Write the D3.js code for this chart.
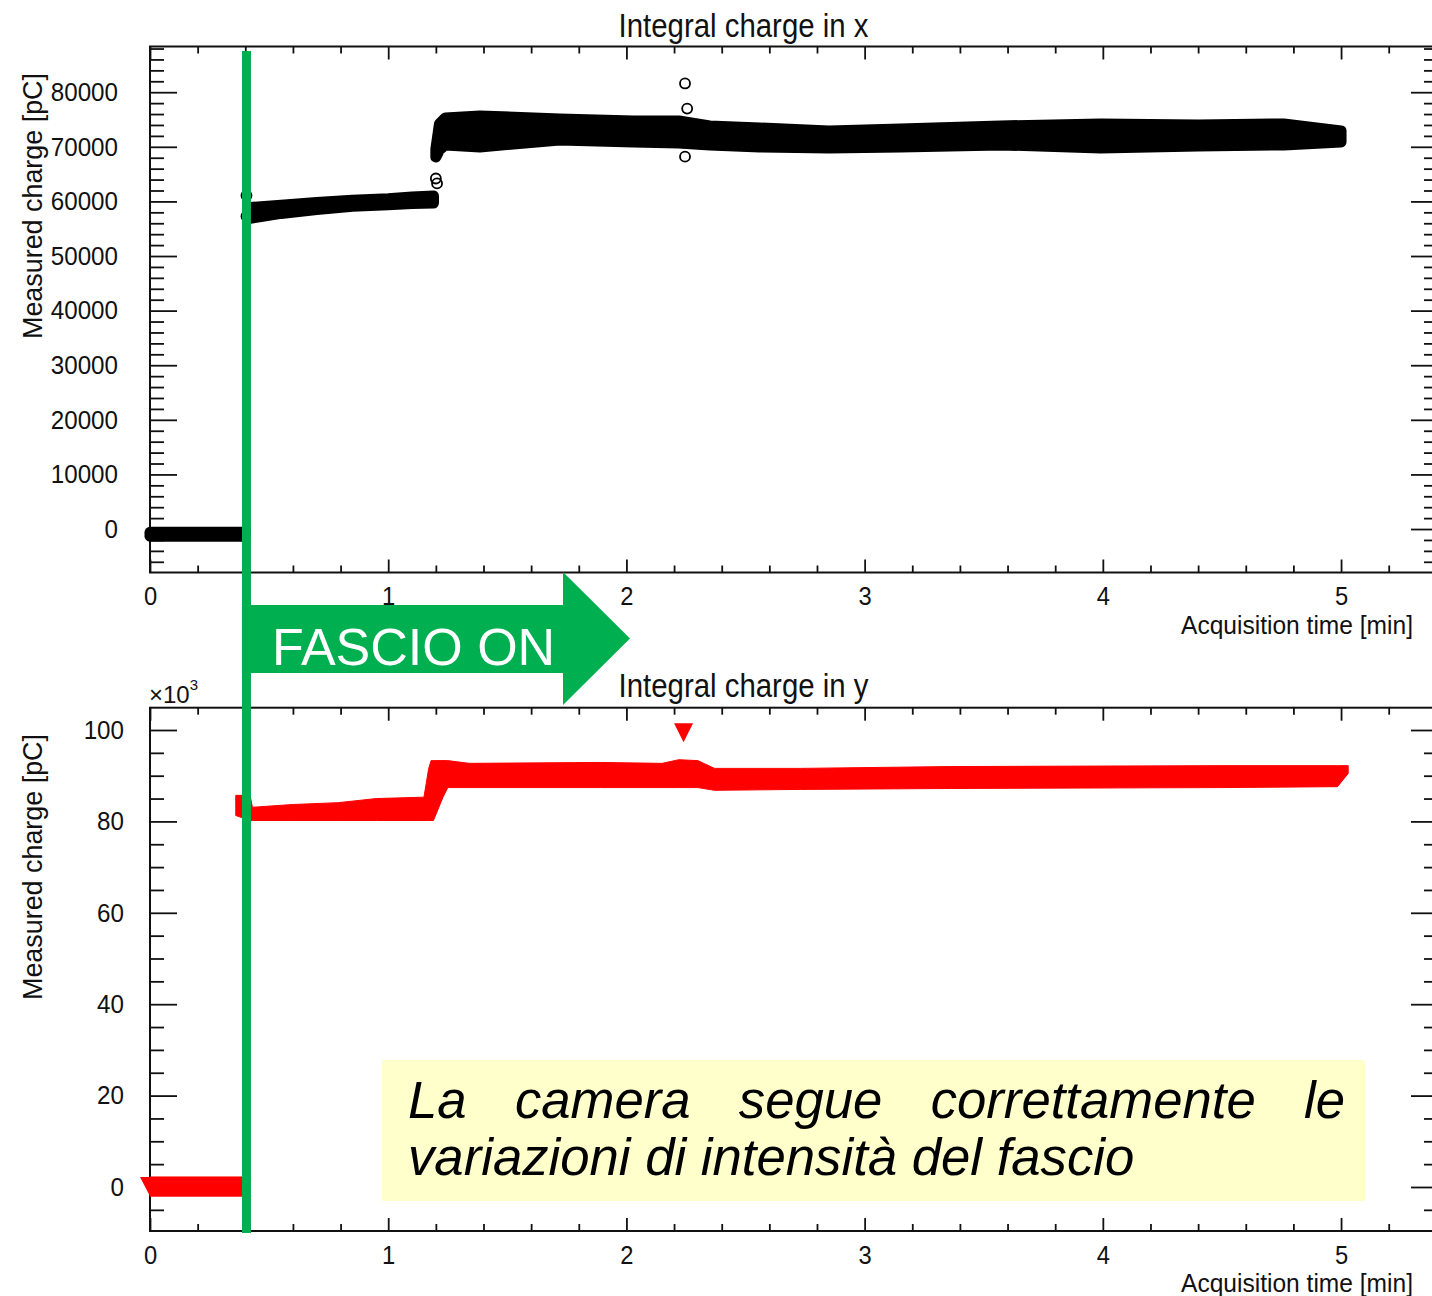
<!DOCTYPE html>
<html>
<head>
<meta charset="utf-8">
<title>Integral charge</title>
<script src="https://cdn.jsdelivr.net/npm/d3@7"></script>
<style>
  body { margin: 0; background: #fff; }
  svg { display: block; }
</style>
</head>
<body>
<div id="chart"></div>
<script>
// tick values
const timeTicks = [0, 1, 2, 3, 4, 5];
const chargeXTicks = [0, 10000, 20000, 30000, 40000, 50000, 60000, 70000, 80000];
const chargeYTicks = [0, 20, 40, 60, 80, 100];

// integral charge in x [pC]: spread (min/max) of the circle markers vs time [min]
const xBaseTime = [0, 0.40];
const xBaseMax = [-600, -600];
const xBaseMin = [-1300, -1300];

const xLevel1Time = [0.42, 0.55, 0.70, 0.85, 1.00, 1.10, 1.19];
const xLevel1Max = [58900, 59300, 59800, 60200, 60500, 60800, 61000];
const xLevel1Min = [56900, 57800, 58500, 59100, 59400, 59600, 59700];

const xLevel2Time = [1.20, 1.215, 1.24, 1.385, 1.72, 2.03, 2.22, 2.35, 2.56, 2.85, 3.15, 3.57, 3.99, 4.40, 4.76, 5.00];
const xLevel2Max = [69600, 74190, 75280, 75650, 75100, 74730, 74730, 73820, 73450, 72910, 73270, 73820, 74190, 74000, 74190, 72910];
const xLevel2Min = [68150, 69430, 70350, 69980, 71260, 70890, 70710, 70350, 69980, 69800, 69980, 70350, 69800, 70160, 70350, 70890];

// single circles standing out of the band
const xOutTime = [0.405, 0.405, 1.200, 1.205, 2.246, 2.255, 2.246];
const xOutValue = [61100, 57300, 64200, 63300, 81600, 77000, 68200];

// integral charge in y [x10^3 pC]: spread of the triangle markers vs time [min]
const yBaseTime = [0, 0.40];
const yBaseMax = [2.2, 2.2];
const yBaseMin = [-2.0, -2.0];

const yBeamTime = [0.36, 0.42, 0.43, 0.60, 0.79, 0.95, 1.15, 1.17, 1.18, 1.19, 1.23, 1.25, 1.34, 1.89, 2.15, 2.22, 2.30, 2.37, 2.73, 3.36, 4.50, 4.985, 5.03];
const yBeamMax = [85.7, 85.7, 83.1, 83.7, 84.1, 85.0, 85.3, 91.6, 93.3, 93.3, 93.3, 93.3, 92.7, 92.9, 92.7, 93.5, 93.3, 91.6, 91.6, 92.0, 92.2, 92.2, 92.2];
const yBeamMin = [81.3, 80.2, 80.2, 80.2, 80.2, 80.2, 80.2, 80.2, 80.2, 80.2, 85.3, 87.4, 87.4, 87.4, 87.4, 87.4, 87.4, 86.8, 87.0, 87.2, 87.4, 87.6, 90.5];

const yOutTime = [2.24];
const yOutValue = [100.1];

// beam switched on
const beamOnTime = 0.405;

const noteLine1 = ["La", "camera", "segue", "correttamente", "le"];
const noteLine2 = "variazioni di intensità del fascio";

// ---------------------------------------------------------------
const W = 1432, H = 1296;
const svg = d3.select("#chart").append("svg")
    .attr("width", W)
    .attr("height", H)
    .style("font-family", "'Liberation Sans', Arial, Helvetica, sans-serif");

svg.append("rect").attr("width", W).attr("height", H).attr("fill", "#fff");

let x = d3.scaleLinear().domain([0, 5.407]).range([150, 1438]);
let yTop = d3.scaleLinear().domain([-7960, 88370]).range([572.5, 46.5]);
let yBot = d3.scaleLinear().domain([-9.63, 104.88]).range([1231, 707.7]);

function squeeze(sel, k) {
    sel.each(function() {
        let w = this.getComputedTextLength();
        d3.select(this).attr("textLength", w * k).attr("lengthAdjust", "spacingAndGlyphs");
    });
}

function tidy(g) {
    g.select(".domain").remove();
    g.attr("font-family", null).attr("font-size", null);
}

let minorTime = d3.range(0, 28).map(i => i / 5).filter((d, i) => i % 5 !== 0);

function drawFrame(yScale, majorY, minorY, labelPad, title, titleY, yTitleMid) {
    let [yb, yt] = yScale.range();
    let [xl, xr] = x.range();
    let g = svg.append("g").attr("color", "#111").attr("stroke-width", 1.8);

    // left axis
    g.append("g").attr("transform", `translate(${xl},0)`)
        .call(d3.axisLeft(yScale).tickValues(minorY).tickSize(-14).tickFormat(""))
        .call(tidy);
    let left = g.append("g").attr("transform", `translate(${xl},0)`)
        .call(d3.axisLeft(yScale).tickValues(majorY).tickSize(-27).tickPadding(labelPad).tickFormat(d3.format("d")))
        .call(tidy);
    left.selectAll("text").attr("font-size", 26).call(squeeze, 0.93);

    // right axis (ticks only)
    g.append("g").attr("transform", `translate(${xr},0)`)
        .call(d3.axisRight(yScale).tickValues(minorY).tickSize(-14).tickFormat(""))
        .call(tidy);
    g.append("g").attr("transform", `translate(${xr},0)`)
        .call(d3.axisRight(yScale).tickValues(majorY).tickSize(-27).tickFormat(""))
        .call(tidy);

    // bottom axis
    g.append("g").attr("transform", `translate(0,${yb})`)
        .call(d3.axisBottom(x).tickValues(minorTime).tickSize(-7).tickFormat(""))
        .call(tidy);
    let bottom = g.append("g").attr("transform", `translate(0,${yb})`)
        .call(d3.axisBottom(x).tickValues(timeTicks).tickSize(-13).tickPadding(15).tickFormat(d3.format("d")))
        .call(tidy);
    bottom.selectAll("text").attr("font-size", 25).call(squeeze, 0.95);

    // top axis (ticks only)
    g.append("g").attr("transform", `translate(0,${yt})`)
        .call(d3.axisTop(x).tickValues(minorTime).tickSize(-7).tickFormat(""))
        .call(tidy);
    g.append("g").attr("transform", `translate(0,${yt})`)
        .call(d3.axisTop(x).tickValues(timeTicks).tickSize(-13).tickFormat(""))
        .call(tidy);

    g.append("rect")
        .attr("x", xl).attr("y", yt)
        .attr("width", xr - xl).attr("height", yb - yt)
        .attr("fill", "none")
        .attr("stroke", "#111")
        .attr("stroke-width", 2);

    // titles
    svg.append("text")
        .attr("x", 743.5).attr("y", titleY)
        .attr("text-anchor", "middle")
        .attr("font-size", 33)
        .attr("fill", "#111")
        .attr("textLength", 250)
        .attr("lengthAdjust", "spacingAndGlyphs")
        .text(title);

    svg.append("text")
        .attr("x", 1413).attr("y", yb + 61)
        .attr("text-anchor", "end")
        .attr("font-size", 25)
        .attr("fill", "#111")
        .attr("textLength", 232)
        .attr("lengthAdjust", "spacingAndGlyphs")
        .text("Acquisition time [min]");

    svg.append("text")
        .attr("transform", `translate(42,${yTitleMid}) rotate(-90)`)
        .attr("text-anchor", "middle")
        .attr("font-size", 27)
        .attr("fill", "#111")
        .attr("textLength", 266)
        .attr("lengthAdjust", "spacingAndGlyphs")
        .text("Measured charge [pC]");
}

let minorTopY = d3.range(-6000, 88001, 2000).filter(v => v % 10000 !== 0);
let minorBotY = d3.range(-5, 104, 5).filter(v => v % 20 !== 0);

drawFrame(yTop, chargeXTicks, minorTopY, 32, "Integral charge in x", 37, 206);
drawFrame(yBot, chargeYTicks, minorBotY, 26, "Integral charge in y", 697, 867);

// x10^3 multiplier
let mult = svg.append("text").attr("x", 149).attr("y", 703).attr("font-size", 24).attr("fill", "#111");
mult.append("tspan").text("×10");
mult.append("tspan").attr("font-size", 15).attr("dy", -13).text("3");

// ---- data: charge in x ----
function rows(t, hi, lo) {
    return t.map((d, i) => ({t: d, hi: hi[i], lo: lo[i]}));
}

let areaX = d3.area()
    .x(d => x(d.t))
    .y0(d => yTop(d.lo))
    .y1(d => yTop(d.hi));

let chartX = svg.append("g");
[rows(xBaseTime, xBaseMax, xBaseMin),
 rows(xLevel1Time, xLevel1Max, xLevel1Min),
 rows(xLevel2Time, xLevel2Max, xLevel2Min)].forEach(band => {
    chartX.append("path")
        .datum(band)
        .attr("d", areaX)
        .attr("fill", "#000")
        .attr("stroke", "#000")
        .attr("stroke-width", 11)
        .attr("stroke-linejoin", "round");
});

chartX.selectAll("circle.out")
    .data(xOutTime.map((t, i) => ({t: t, v: xOutValue[i]})))
    .enter()
    .append("circle")
    .attr("cx", d => x(d.t))
    .attr("cy", d => yTop(d.v))
    .attr("r", 5)
    .attr("fill", "none")
    .attr("stroke", "#000")
    .attr("stroke-width", 1.8);

// ---- data: charge in y ----
let areaY = d3.area()
    .x(d => x(d.t))
    .y0(d => yBot(d.lo))
    .y1(d => yBot(d.hi));

let chartY = svg.append("g");
[rows(yBaseTime, yBaseMax, yBaseMin),
 rows(yBeamTime, yBeamMax, yBeamMin)].forEach(band => {
    chartY.append("path")
        .datum(band)
        .attr("d", areaY)
        .attr("fill", "#ff0000")
        .attr("stroke", "#ff0000")
        .attr("stroke-width", 1);
});

// first marker of the baseline (down triangle spanning the band)
let t0 = x(yBaseTime[0]), top0 = yBot(yBaseMax[0]), tip0 = yBot(yBaseMin[0]);
chartY.append("path")
    .attr("d", `M${t0 - 10},${top0} L${t0 + 10},${top0} L${t0},${tip0} Z`)
    .attr("fill", "#ff0000");

chartY.selectAll("path.out")
    .data(yOutTime.map((t, i) => ({t: t, v: yOutValue[i]})))
    .enter()
    .append("path")
    .attr("transform", d => `translate(${x(d.t)},${yBot(d.v)})`)
    .attr("d", "M-9.5,-6.3 L9.5,-6.3 L0,12.7 Z")
    .attr("fill", "#ff0000");

// ---- beam on marker and arrow ----
let green = "#00b050";
let gx = x(beamOnTime);
svg.append("rect")
    .attr("x", gx - 4.5).attr("y", yTop.range()[1] + 4.5)
    .attr("width", 9)
    .attr("height", yBot.range()[0] + 2 - (yTop.range()[1] + 4.5))
    .attr("fill", green);

let ax = gx - 4.5;
svg.append("path")
    .attr("d", `M${ax},605 H563 V572 L630,638.5 L563,705 V673 H${ax} Z`)
    .attr("fill", green);

svg.append("text")
    .attr("x", 272).attr("y", 665)
    .attr("font-size", 52)
    .attr("fill", "#fff")
    .text("FASCIO ON");

// ---- note box ----
svg.append("rect")
    .attr("x", 382).attr("y", 1060)
    .attr("width", 983).attr("height", 141)
    .attr("fill", "#ffffcc");

let note = svg.append("g")
    .attr("font-size", 52.7)
    .attr("font-style", "italic")
    .attr("fill", "#000");

// first line justified between 408 and 1345
let words = note.selectAll("text.w")
    .data(noteLine1)
    .enter()
    .append("text")
    .attr("y", 1118)
    .text(d => d);
let widths = [];
words.each(function() { widths.push(this.getComputedTextLength()); });
let gap = (1345 - 408 - d3.sum(widths)) / (noteLine1.length - 1);
let pos = 408;
words.each(function(d, i) {
    d3.select(this).attr("x", pos);
    pos += widths[i] + gap;
});

note.append("text")
    .attr("x", 408).attr("y", 1175)
    .text(noteLine2);
</script>
</body>
</html>
